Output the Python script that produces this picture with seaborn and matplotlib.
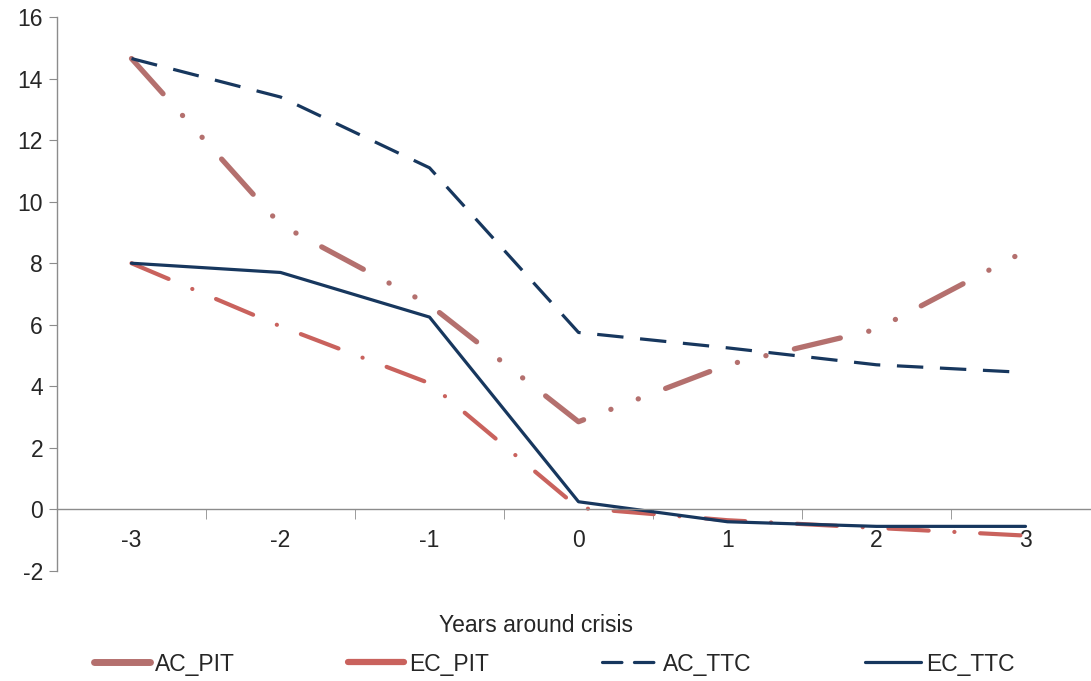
import matplotlib
matplotlib.use("Agg")
import matplotlib.pyplot as plt
import seaborn as sns
import pandas as pd
import numpy as np

years = [-3, -2, -1, 0, 1, 2, 3]
ac_pit = [14.65, 9.25, 6.65, 2.85, 4.7, 5.85, 8.4]
ec_pit = [8.0, 5.95, 4.1, 0.05, -0.35, -0.6, -0.85]
ac_ttc = [14.65, 13.4, 11.1, 5.75, 5.25, 4.7, 4.45]
ec_ttc = [8.0, 7.7, 6.25, 0.25, -0.4, -0.55, -0.55]
series_names = ["AC_PIT", "EC_PIT", "AC_TTC", "EC_TTC"]
y_ticks = [-2, 0, 2, 4, 6, 8, 10, 12, 14, 16]

sns.set_style("white")
plt.rcParams["font.family"] = ["Liberation Sans", "DejaVu Sans"]
plt.rcParams["lines.scale_dashes"] = False
plt.rcParams["axes.unicode_minus"] = False

df = pd.DataFrame({"year": years * 4,
                   "value": ac_pit + ec_pit + ac_ttc + ec_ttc,
                   "series": sum([[s] * len(years) for s in series_names], [])})

colors = {"AC_PIT": "#B4706E", "EC_PIT": "#C9625D", "AC_TTC": "#17375E", "EC_TTC": "#17375E"}
widths = {"AC_PIT": 3.8, "EC_PIT": 3.0, "AC_TTC": 2.3, "EC_TTC": 2.3}
dashes = {"AC_PIT": (34, 21, 0.1, 21, 0.1, 21),
          "EC_PIT": (29, 18.5, 0.1, 18.5),
          "AC_TTC": (19, 12),
          "EC_TTC": None}

FS = 16.5

fig = plt.figure(figsize=(10.91, 6.81), dpi=100)
ax = fig.add_axes([57 / 1091, (681 - 571) / 681, 1 - 57 / 1091, (571 - 17) / 681])

for s in series_names:
    sub = df[df["series"] == s]
    sns.lineplot(data=sub, x="year", y="value", ax=ax, color=colors[s],
                 linewidth=widths[s], label=s, sort=False)
    line = ax.lines[-1]
    if dashes[s] is not None:
        line.set_dashes(dashes[s])
        line.set_dash_capstyle("round" if s != "AC_TTC" else "butt")
    line.set_solid_capstyle("round")

ax.set_xlim(-3.5, -3.5 + 1034 / 149)
ax.set_ylim(-2, 16)
ax.set_yticks(y_ticks)
ax.set_xticks(years)
ax.set_xticks([y + 0.5 for y in years[:-1]], minor=True)

for sp in ["top", "right"]:
    ax.spines[sp].set_visible(False)
ax.spines["bottom"].set_position(("data", 0))
ax.spines["bottom"].set_color("#8C8C8C")
ax.spines["left"].set_color("#8C8C8C")
ax.spines["bottom"].set_linewidth(1.0)
ax.spines["left"].set_linewidth(1.0)

ax.tick_params(axis="y", which="major", length=6, direction="out", color="#8C8C8C",
               labelsize=FS, left=True, pad=4)
ax.tick_params(axis="x", which="major", length=0, labelsize=FS, pad=14, bottom=True)
ax.tick_params(axis="x", which="minor", length=7, direction="out", color="#8C8C8C", bottom=True)

ax.set_xlabel("")
ax.set_ylabel("")
ax.grid(False)

fig.text(0.491, (681 - 625) / 681, "Years around crisis", ha="center", va="center", fontsize=FS)

if ax.get_legend():
    ax.get_legend().remove()
handles, labels = ax.get_legend_handles_labels()
leg = fig.legend(handles, labels, loc="center", bbox_to_anchor=(0.508, (681 - 664) / 681),
                 ncol=4, frameon=False, fontsize=FS, handlelength=2.45, handletextpad=0.2,
                 columnspacing=4.95)
for h, s in zip(leg.get_lines(), series_names):
    if s in ("AC_PIT", "EC_PIT"):
        h.set_linestyle("-")
        h.set_solid_capstyle("round")
        h.set_linewidth(5.0 if s == "AC_PIT" else 4.5)
    elif s == "AC_TTC":
        h.set_dashes((14, 9))
        h.set_dash_capstyle("round")

fig.savefig("out.png", dpi=100, facecolor="white")
